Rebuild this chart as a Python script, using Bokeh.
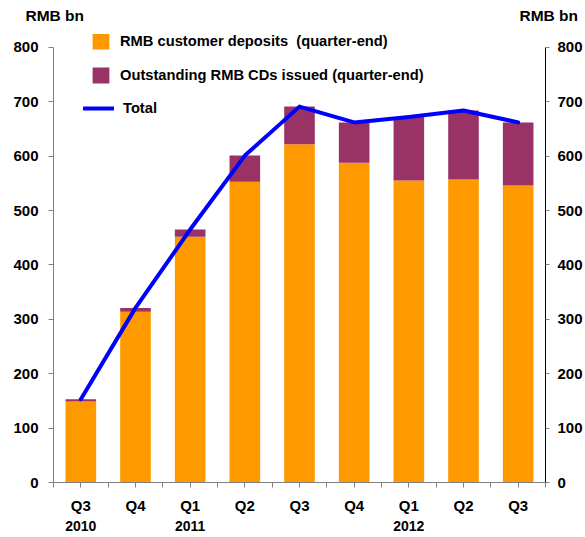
from bokeh.plotting import figure
from bokeh.models import (Range1d, LinearAxis, FixedTicker, Legend, LegendItem,
                          Label, ColumnDataSource)
from bokeh.embed import file_html
from bokeh.resources import INLINE

quarters = ["Q3", "Q4", "Q1", "Q2", "Q3", "Q4", "Q1", "Q2", "Q3"]
years = ["2010", "", "2011", "", "", "", "2012", "", ""]
deposits = [149, 314, 452, 553, 622, 588, 555, 557, 546]
cds = [4, 7, 13, 48, 69, 74, 117, 127, 116]
total = [153, 321, 465, 601, 691, 662, 672, 684, 662]
y_ticks = [0, 100, 200, 300, 400, 500, 600, 700, 800]
unit_label = "RMB bn"
labels = ["RMB customer deposits  (quarter-end)",
          "Outstanding RMB CDs issued (quarter-end)",
          "Total"]

ORANGE = "#FF9900"
PURPLE = "#993366"
BLUE = "#0000FF"
FONT = "Liberation Sans"

W, H = 585, 537
LEFT, RIGHT, TOP, BOTTOM = 53, 37, 28, 55
# headroom so that the top tick (800) sits 13px below the frame top
y_top = y_ticks[-1] * (H - BOTTOM - TOP) / (H - BOTTOM - TOP - 13)

n = len(quarters)
xc = [i + 0.5 for i in range(n)]
src = ColumnDataSource(dict(x=xc, deposits=deposits, cds=cds, total=total))

p = figure(width=W, height=H, output_backend="svg", toolbar_location=None,
           x_range=Range1d(0, n), y_range=Range1d(y_ticks[0], y_top),
           min_border_left=LEFT, min_border_right=RIGHT, min_border_top=TOP,
           min_border_bottom=BOTTOM, outline_line_color=None)
p.xgrid.visible = False
p.ygrid.visible = False

bars = p.vbar_stack(["deposits", "cds"], x="x", width=0.56, color=[ORANGE, PURPLE],
                    line_color=None, source=src)
ln = p.line("x", "total", source=src, line_color=BLUE, line_width=4,
            line_join="round", line_cap="round")

def style_axis(ax, size="15px"):
    ax.major_label_text_font = FONT
    ax.major_label_text_font_style = "bold"
    ax.major_label_text_font_size = size
    ax.major_label_text_color = "black"

# left y axis
ya = p.yaxis[0]
ya.ticker = FixedTicker(ticks=y_ticks, minor_ticks=[])
ya.bounds = (y_ticks[0], y_ticks[-1])
ya.axis_line_color = "#808080"
ya.major_tick_line_color = "#808080"
ya.major_tick_out = 5
ya.major_tick_in = 0
ya.major_label_standoff = 10
style_axis(ya)

# right y axis
yr = LinearAxis(ticker=FixedTicker(ticks=y_ticks, minor_ticks=[]),
                bounds=(y_ticks[0], y_ticks[-1]))
yr.axis_line_color = "black"
yr.major_tick_line_color = "#808080"
yr.major_tick_out = 4
yr.major_tick_in = 0
yr.major_label_standoff = 8
style_axis(yr)
p.add_layout(yr, "right")

# x axis (quarters)
xa = p.xaxis[0]
xa.ticker = FixedTicker(ticks=xc, minor_ticks=list(range(n + 1)))
xa.major_label_overrides = {x: q for x, q in zip(xc, quarters)}
xa.axis_line_color = "#808080"
xa.major_tick_line_color = "#808080"
xa.minor_tick_line_color = "#808080"
xa.major_tick_out = 5
xa.major_tick_in = 0
xa.minor_tick_out = 5
xa.minor_tick_in = 0
xa.major_label_standoff = 9
style_axis(xa)

# year axis
yx = [x for x, y in zip(xc, years) if y]
xy = LinearAxis(ticker=FixedTicker(ticks=yx, minor_ticks=[]))
xy.major_label_overrides = {x: y for x, y in zip(xc, years) if y}
xy.axis_line_color = None
xy.major_tick_line_color = None
xy.major_tick_out = 0
xy.major_tick_in = 0
xy.major_label_standoff = 4
style_axis(xy, "14px")
p.add_layout(xy, "below")

# unit labels (canvas coordinates)
for lx in (25, 519):
    p.add_layout(Label(x=lx, y=15, x_units="canvas", y_units="canvas",
                       text=unit_label, text_font=FONT, text_font_style="bold",
                       text_font_size="15.5px", text_baseline="middle",
                       text_color="black"), "above")

# legends
def make_legend(item, loc, gw, standoff):
    lg = Legend(items=[item], location=loc, orientation="vertical",
                glyph_width=gw, glyph_height=20, label_height=20,
                label_standoff=standoff, padding=0, margin=0, spacing=0,
                border_line_color=None, background_fill_alpha=0,
                label_text_font=FONT, label_text_font_style="bold",
                label_text_font_size="14.7px", label_text_color="black")
    p.add_layout(lg, "center")

make_legend(LegendItem(label=labels[0], renderers=[bars[0]]), (37, 431), 21, 9)
make_legend(LegendItem(label=labels[1], renderers=[bars[1]]), (37, 397), 21, 9)
make_legend(LegendItem(label=labels[2], renderers=[ln]), (30, 364), 31, 9)

open("out.html", "w").write(file_html(p, INLINE))
